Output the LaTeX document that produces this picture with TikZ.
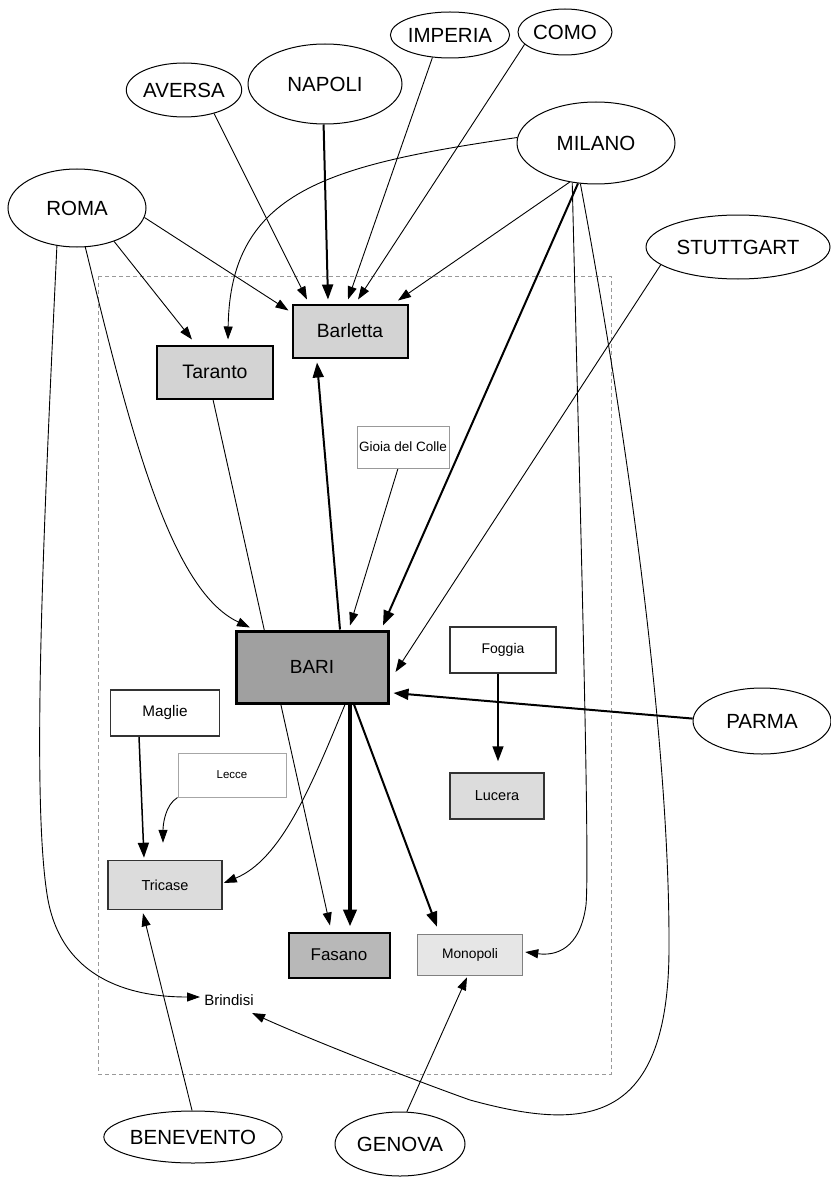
\documentclass[tikz,border=0pt]{standalone}
\usepackage{fontspec}
\setmainfont{Liberation Sans}
\usetikzlibrary{shapes.geometric,arrows.meta,calc,backgrounds}
\definecolor{barigray}{HTML}{A0A0A0}
\definecolor{midgray}{HTML}{B8B8B8}
\definecolor{ltgray}{HTML}{D3D3D3}
\definecolor{ltgrayb}{HTML}{DCDCDC}
\definecolor{vltgray}{HTML}{E6E6E6}
\definecolor{edgegray}{HTML}{999999}
\newcommand{\fsz}[1]{\fontsize{#1}{#1}\selectfont}
\begin{document}
\begin{tikzpicture}[x=1pt,y=-1pt,
  city/.style={ellipse, draw=black, fill=white, line width=1pt, inner sep=0pt, font=\fsz{20.5}},
  box/.style={rectangle, draw=black, inner sep=0pt},
  e/.style={-{Triangle[length=13pt,width=9pt]}, line width=0.9pt},
  etk/.style={-{Triangle[length=15pt,width=11pt]}, line width=2pt},
  ethk/.style={-{Triangle[length=17pt,width=13pt]}, line width=4pt}]
\useasboundingbox (0,0) rectangle (830,1177);

% ellipses
\node[city, minimum width=138pt, minimum height=78pt] (roma) at (77,208) {ROMA};
\node[city, minimum width=112pt, minimum height=54pt] (aversa) at (184,90) {AVERSA};
\node[city, minimum width=154pt, minimum height=80pt] (napoli) at (325,84) {NAPOLI};
\node[city, minimum width=116pt, minimum height=46pt] (imperia) at (450,35) {IMPERIA};
\node[city, minimum width=94pt, minimum height=46pt] (como) at (565,32) {COMO};
\node[city, minimum width=158pt, minimum height=82pt] (milano) at (596,143) {MILANO};
\node[city, minimum width=184pt, minimum height=64pt] (stuttgart) at (738,247) {STUTTGART};
\node[city, minimum width=138pt, minimum height=66pt] (parma) at (762,721) {PARMA};
\node[city, minimum width=150pt, minimum height=52pt] (benevento) at (193,1137) {BENEVENTO};
\node[city, minimum width=130pt, minimum height=64pt] (genova) at (400,1144) {GENOVA};

% boxes
\node[box, fill=ltgray, line width=2pt, minimum width=115pt, minimum height=53pt, font=\fsz{19.2}] (barletta) at (350,331) {Barletta};
\node[box, fill=ltgray, line width=2pt, minimum width=116pt, minimum height=53pt, font=\fsz{19.5}] (taranto) at (215,372) {Taranto};
\node[box, fill=white, draw=edgegray, line width=0.8pt, minimum width=92pt, minimum height=42pt, font=\fsz{13.5}] (gioia) at (403,447) {Gioia del Colle};
\node[box, fill=barigray, line width=3pt, minimum width=152pt, minimum height=72pt, font=\fsz{19}] (bari) at (312,667) {BARI};
\node[box, fill=white, draw=black!80, line width=1.2pt, minimum width=109pt, minimum height=46pt, font=\fsz{15.3}] (maglie) at (165,713) {Maglie};
\node[box, fill=white, draw=black!35, line width=1pt, minimum width=108pt, minimum height=44pt, font=\fsz{11.5}] (lecce) at (232,775) {Lecce};
\node[box, fill=ltgrayb, draw=black!80, line width=1.5pt, minimum width=114pt, minimum height=49pt, font=\fsz{14.5}] (tricase) at (165,885) {Tricase};
\node[box, fill=white, draw=black!80, line width=1.5pt, minimum width=106pt, minimum height=46pt, font=\fsz{14}] (foggia) at (503,650) {Foggia};
\node[box, fill=ltgrayb, draw=black!80, line width=1.5pt, minimum width=94pt, minimum height=46pt, font=\fsz{14.5}] (lucera) at (497,796) {Lucera};
\node[box, fill=midgray, line width=2pt, minimum width=101pt, minimum height=45pt, font=\fsz{17}] (fasano) at (339,955) {Fasano};
\node[box, fill=vltgray, draw=black!50, line width=1.5pt, minimum width=105pt, minimum height=41pt, font=\fsz{13.8}] (monopoli) at (470,955) {Monopoli};
\node[inner sep=0pt, font=\fsz{15}] (brindisi) at (229,1000) {Brindisi};

\begin{scope}[on background layer]
\fill[white] (0,0) rectangle (830,1177);
\draw[edgegray, line width=0.6pt, dash pattern=on 4pt off 3pt] (98,276) rectangle (611,1074);

% into Barletta
\draw[e] (aversa.-38) -- ($(barletta.north)+(-43,-4)$);
\draw[etk] (napoli.-92) -- ($(barletta.north)+(-22,-4)$);
\draw[e] (imperia.-128) -- ($(barletta.north)+(-2,-4)$);
\draw[e] (como.-163) -- ($(barletta.north)+(8,-4)$);
\draw[e] (milano.-124) -- ($(barletta.north)+(48,-3)$);
\draw[e] (roma.-8) -- ($(barletta.north west)+(-3,7)$);
\draw[etk] ($(bari.north)+(28,0)$) -- ($(barletta.south)+(-33,4)$);

% into Taranto
\draw[e] (roma.-42) -- ($(taranto.north)+(-23,-5)$);
\draw[e] (milano.176) .. controls (330,165) and (230,190) .. ($(taranto.north)+(13,-5)$);

% into BARI
\draw[e] (roma.-78) .. controls (130,430) and (170,590) .. ($(bari.north)+(-62,-2)$);
\draw[e] ($(gioia.south)+(-5,0)$) -- ($(bari.north)+(38,-4)$);
\draw[etk] (milano.-114) -- ($(bari.north)+(71,-4)$);
\draw[e] (stuttgart.-167) -- ($(bari.east)+(6,5)$);
\draw[etk] (parma.178) -- ($(bari.east)+(4,26)$);

% from BARI down
\draw[ethk] ($(bari.south)+(38,0)$) -- ($(fasano.north)+(11,-5)$);
\draw[etk] ($(bari.south)+(42,0)$) -- ($(monopoli.north)+(-33,-7)$);
\draw[e] ($(bari.south)+(33,0)$) .. controls (310,790) and (280,860) .. ($(tricase.east)+(1,-2)$);
\draw[e] ($(taranto.south)+(-2,0)$) -- ($(fasano.north)+(-9,-6)$);

% Tricase
\draw[etk, line width=1.5pt] ($(maglie.south)+(-26,0)$) -- ($(tricase.north)+(-21,-2)$);
\draw[e] (lecce.south west) .. controls (165,805) and (163,825) .. ($(tricase.north)+(-2,-17)$);
\draw[e] (benevento.92) -- ($(tricase.south)+(-22,3)$);

% Lucera
\draw[etk, line width=1.5pt] ($(foggia.south)+(-5,0)$) -- ($(lucera.north)+(1,-11)$);

% Monopoli
\draw[e] (milano.-121) .. controls (580,500) and (590,860) .. (586,905) .. controls (580,950) and (555,956) .. ($(monopoli.east)+(2,-3)$);
\draw[e] (genova.78) -- ($(monopoli.south)+(-3,1)$);

% Brindisi
\draw[e] (roma.-118) .. controls (45,500) and (30,800) .. (48,900) .. controls (65,990) and (150,997) .. ($(brindisi)+(-29,-3)$);
\draw[e] (milano.-111) .. controls (630,450) and (670,750) .. (669,950) .. controls (668,1130) and (580,1130) .. (470,1100) .. controls (400,1075) and (300,1035) .. ($(brindisi)+(23,13)$);
\end{scope}
\end{tikzpicture}
\end{document}
